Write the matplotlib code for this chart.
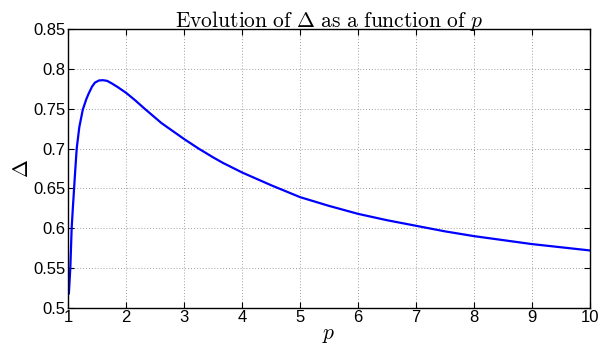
import matplotlib
matplotlib.use("Agg")
import matplotlib.pyplot as plt

# values
p_vals = [1.01, 1.035, 1.058, 1.08, 1.10, 1.12, 1.145, 1.19, 1.25, 1.31, 1.35,
          1.41, 1.46, 1.53, 1.60, 1.67, 1.75, 1.85, 2.0, 2.15, 2.32, 2.61, 3.0,
          3.25, 3.5, 3.67, 4.0, 4.5, 5.0, 5.5, 6.0, 6.5, 7.0, 7.5, 8.0, 9.0, 10.0]
delta_vals = [0.518, 0.55, 0.60, 0.627, 0.65, 0.673, 0.70, 0.727, 0.749, 0.762, 0.769,
              0.778, 0.783, 0.7857, 0.786, 0.7852, 0.782, 0.7775, 0.770, 0.761, 0.75, 0.732, 0.712,
              0.700, 0.689, 0.682, 0.670, 0.654, 0.639, 0.628, 0.618, 0.610, 0.603, 0.596,
              0.590, 0.580, 0.572]

x_ticks = [1, 2, 3, 4, 5, 6, 7, 8, 9, 10]
y_ticks = [0.5, 0.55, 0.6, 0.65, 0.7, 0.75, 0.8, 0.85]
y_labels = ['0.5', '0.55', '0.6', '0.65', '0.7', '0.75', '0.8', '0.85']

plt.rcParams['font.family'] = ['Liberation Sans', 'DejaVu Sans']
plt.rcParams['mathtext.fontset'] = 'cm'

fig = plt.figure(figsize=(6.12, 3.46), dpi=100)
ax = fig.add_axes([0.1116, 0.1107, 0.852, 0.8046])

ax.plot(p_vals, delta_vals, color=(0, 0, 1), lw=1.6)

ax.set_xlim(1, 10)
ax.set_ylim(0.5, 0.85)
ax.set_xticks(x_ticks)
ax.set_yticks(y_ticks)
ax.set_yticklabels(y_labels)
ax.tick_params(direction='in', top=True, right=True, length=4, width=0.8,
               labelsize=12, pad=2, colors='black')
for s in ax.spines.values():
    s.set_linewidth(1.0)

ax.grid(True, linestyle=(0, (1, 2)), color='#a0a0a0', linewidth=0.7)

ax.set_title(r'$\mathrm{Evolution\ of\ }\Delta\mathrm{\ as\ a\ function\ of\ }p$',
             fontsize=15.5, pad=2)
ax.set_xlabel(r'$p$', fontsize=15.5, labelpad=-1)
ax.set_ylabel(r'$\Delta$', fontsize=15.5, labelpad=0)

fig.savefig('out.png', dpi=100)
